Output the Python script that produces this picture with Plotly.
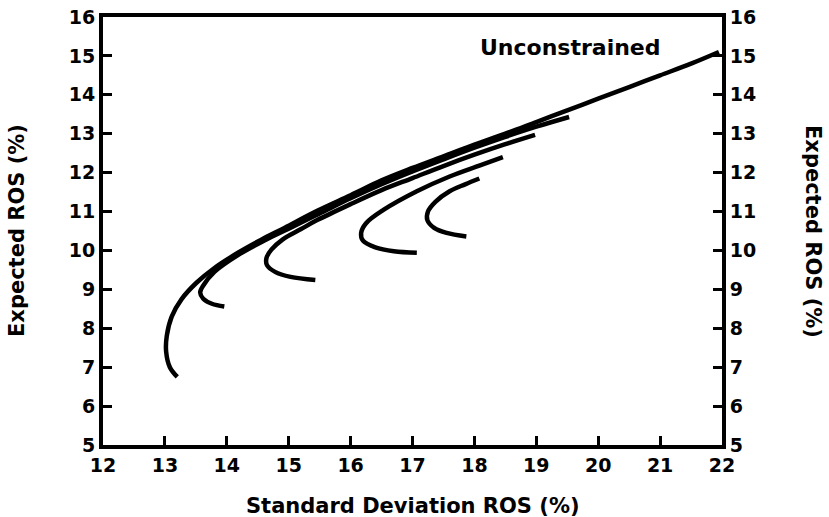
import plotly.graph_objects as go

# Unconstrained frontier
unc_sd = [13.20, 13.08, 13.02, 13.03, 13.11, 13.27, 13.51, 13.80, 14.18, 14.55, 14.93, 15.46, 16.00, 16.50, 17.00, 17.50, 18.00, 18.50, 19.00, 19.50, 20.00, 20.50, 21.00, 21.50, 21.95]
unc_er = [6.75, 7.00, 7.40, 7.80, 8.30, 8.75, 9.17, 9.55, 9.94, 10.27, 10.58, 11.02, 11.42, 11.80, 12.12, 12.42, 12.72, 13.00, 13.30, 13.60, 13.90, 14.20, 14.50, 14.80, 15.10]

# Constrained frontiers
a_sd = [13.96, 13.76, 13.62, 13.57, 13.62, 13.80, 14.18, 14.60, 15.00, 15.50, 16.00, 16.50, 17.00, 17.50, 18.00, 18.50, 19.00, 19.53]
a_er = [8.56, 8.63, 8.76, 8.92, 9.10, 9.45, 9.88, 10.25, 10.56, 10.95, 11.34, 11.70, 12.03, 12.34, 12.64, 12.92, 13.18, 13.43]

b_sd = [15.43, 15.03, 14.78, 14.65, 14.64, 14.72, 14.90, 15.20, 15.46, 16.00, 16.50, 17.00, 17.50, 18.00, 18.50, 18.98]
b_er = [9.24, 9.32, 9.45, 9.62, 9.80, 10.02, 10.28, 10.55, 10.78, 11.19, 11.55, 11.86, 12.17, 12.46, 12.73, 12.97]

c_sd = [17.07, 16.70, 16.40, 16.20, 16.17, 16.25, 16.53, 17.07, 17.60, 18.08, 18.46]
c_er = [9.94, 9.98, 10.08, 10.25, 10.45, 10.70, 11.04, 11.52, 11.90, 12.18, 12.40]

d_sd = [17.87, 17.55, 17.35, 17.24, 17.25, 17.37, 17.60, 17.85, 18.08]
d_er = [10.36, 10.45, 10.58, 10.78, 11.00, 11.25, 11.52, 11.70, 11.85]

x_ticks = list(range(12, 23))
y_ticks = list(range(5, 17))

series = [(unc_sd, unc_er), (a_sd, a_er), (b_sd, b_er), (c_sd, c_er), (d_sd, d_er)]

FAM = "DejaVu Sans, sans-serif"

fig = go.Figure()
for sx, sy in series:
    fig.add_trace(go.Scatter(x=sx, y=sy, mode="lines",
                             line=dict(color="black", width=4.5, shape="spline", smoothing=1.0),
                             showlegend=False, hoverinfo="skip"))
# invisible trace for the right axis
fig.add_trace(go.Scatter(x=[12], y=[5], yaxis="y2", mode="markers",
                         marker=dict(opacity=0), showlegend=False, hoverinfo="skip"))

tick_font = dict(family=FAM, size=19, color="black")
axis_common = dict(showline=True, linewidth=4, linecolor="black",
                   ticks="inside", ticklen=9, tickwidth=3, tickcolor="black",
                   showgrid=False, zeroline=False, automargin=False, tickfont=tick_font,
                   ticklabeloverflow="allow")

fig.update_layout(
    width=829, height=517,
    margin=dict(l=103, r=107, t=17, b=72),
    paper_bgcolor="white", plot_bgcolor="white",
    font=dict(family=FAM, size=19, color="black"),
    xaxis=dict(range=[12, 22], tickvals=x_ticks, ticktext=["<b>%d</b>" % v for v in x_ticks],
               mirror=True, **axis_common),
    yaxis=dict(range=[5, 16], tickvals=y_ticks, ticktext=["<b>%d</b>" % v for v in y_ticks],
               **axis_common),
    yaxis2=dict(range=[5, 16], tickvals=y_ticks, ticktext=["<b>%d</b>" % v for v in y_ticks],
                overlaying="y", side="right", **axis_common),
    annotations=[
        dict(text="<b>Unconstrained</b>", x=19.56, y=15.22, xref="x", yref="y",
             xanchor="center", yanchor="middle",
             showarrow=False, font=dict(family=FAM, size=22, color="black")),
        dict(text="<b>Standard Deviation ROS (%)</b>", x=0.5, xref="paper", y=0, yref="paper",
             yshift=-61, xanchor="center", yanchor="middle", showarrow=False,
             font=dict(family=FAM, size=21, color="black")),
        dict(text="<b>Expected ROS (%)</b>", x=0, xref="paper", xshift=-86, y=0.5, yref="paper",
             xanchor="center", yanchor="middle", textangle=-90, showarrow=False,
             font=dict(family=FAM, size=21, color="black")),
        dict(text="<b>Expected ROS (%)</b>", x=1.0, xref="paper", xshift=91, y=0.5, yref="paper",
             xanchor="center", yanchor="middle", textangle=90, showarrow=False,
             font=dict(family=FAM, size=21, color="black")),
    ],
)

fig.write_html("out.html", config={"displayModeBar": False},
               post_script="document.body.style.margin='0';")
